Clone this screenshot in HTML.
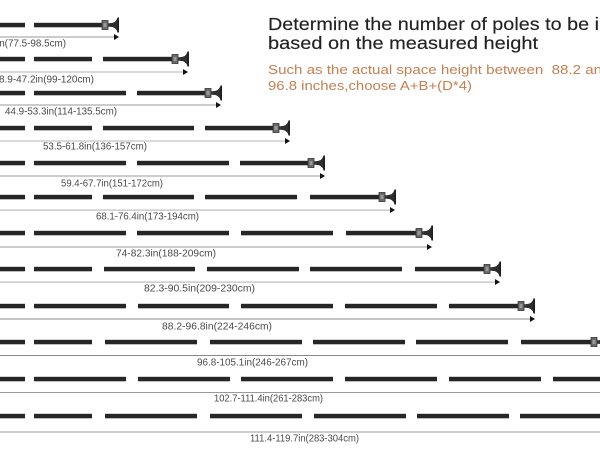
<!DOCTYPE html>
<html>
<head>
<meta charset="utf-8">
<style>
  html,body{margin:0;padding:0;background:#fff;}
  body{width:600px;height:450px;overflow:hidden;}
  svg{display:block;}
  .lbl{font-family:"Liberation Sans",sans-serif;font-size:10px;fill:#4a4a4a;}
  .ttl{font-family:"Liberation Sans",sans-serif;font-size:17.5px;fill:#222;stroke:#222;stroke-width:0.15;}
  .sub{font-family:"Liberation Sans",sans-serif;font-size:12.5px;fill:#c47f52;}
  .t{fill:#262626;}
</style>
</head>
<body>
<svg width="600" height="450" viewBox="0 0 600 450" xmlns="http://www.w3.org/2000/svg">
  <defs>
    <g id="cap">
      <rect x="-12" y="-1.8" width="6" height="3.6" fill="#3a3a3a"/>
      <rect x="-17" y="-4.5" width="6" height="9" fill="#6a6a6a" stroke="#333" stroke-width="0.8"/>
      <rect x="-15.5" y="-2" width="3" height="4" fill="#999"/>
      <path d="M-9,-1.8 Q-3,-2 -1.6,-7 L0,-7.5 L0,7.5 L-1.6,7 Q-3,2 -9,1.8 Z" fill="#2e2e2e"/>
      <rect x="-1.6" y="-7.5" width="1.6" height="15" fill="#1e1e1e"/>
    </g>
    <g id="arrowhead">
      <polygon points="-5,-3 0,0 -5,3" fill="#111"/>
    </g>
  </defs>

  <!-- Title -->
  <text class="ttl" x="268" y="30" textLength="331" lengthAdjust="spacingAndGlyphs">Determine the number of poles to be i</text>
  <text class="ttl" x="268" y="49" textLength="270" lengthAdjust="spacingAndGlyphs">based on the measured height</text>
  <text class="sub" x="268" y="74" textLength="334" lengthAdjust="spacingAndGlyphs" xml:space="preserve">Such as the actual space height between  88.2 an</text>
  <text class="sub" x="268" y="90" textLength="204" lengthAdjust="spacingAndGlyphs">96.8 inches,choose A+B+(D*4)</text>

  <g id="rows">
  <!-- Row 1 -->
  <g>
    <rect class="t" x="-2" y="22.8" width="27" height="4.5"/>
    <rect class="t" x="34" y="22.8" width="68" height="4.5"/>
    <use href="#cap" x="119" y="25"/>
    <rect x="0" y="36.5" width="115" height="1" fill="#9a9a9a"/>
    <use href="#arrowhead" x="119" y="37"/>
    <text class="lbl" x="-3" y="46.5" textLength="69" lengthAdjust="spacingAndGlyphs">in(77.5-98.5cm)</text>
  </g>
  <!-- Row 2 -->
  <g>
    <rect class="t" x="-2" y="56.8" width="27" height="4.5"/>
    <rect class="t" x="34" y="56.8" width="58" height="4.5"/>
    <rect class="t" x="103" y="56.8" width="69" height="4.5"/>
    <use href="#cap" x="189" y="59"/>
    <rect x="0" y="71.5" width="184" height="1" fill="#b4b4b4"/>
    <use href="#arrowhead" x="188" y="72"/>
    <text class="lbl" x="-6.5" y="82.5" textLength="100.5" lengthAdjust="spacingAndGlyphs">38.9-47.2in(99-120cm)</text>
  </g>
  <!-- Row 3 -->
  <g>
    <rect class="t" x="-2" y="90.8" width="27" height="4.5"/>
    <rect class="t" x="34" y="90.8" width="92" height="4.5"/>
    <rect class="t" x="137" y="90.8" width="68" height="4.5"/>
    <use href="#cap" x="222" y="93"/>
    <rect x="0" y="104.5" width="217" height="1" fill="#9a9a9a"/>
    <use href="#arrowhead" x="221" y="105"/>
    <text class="lbl" x="5" y="114.5" textLength="112" lengthAdjust="spacingAndGlyphs">44.9-53.3in(114-135.5cm)</text>
  </g>
  <!-- Row 4 -->
  <g>
    <rect class="t" x="-2" y="125.8" width="27" height="4.5"/>
    <rect class="t" x="34" y="125.8" width="58" height="4.5"/>
    <rect class="t" x="103" y="125.8" width="91" height="4.5"/>
    <rect class="t" x="205" y="125.8" width="68" height="4.5"/>
    <use href="#cap" x="290" y="128"/>
    <rect x="0" y="140.5" width="286" height="1" fill="#b4b4b4"/>
    <use href="#arrowhead" x="290" y="141"/>
    <text class="lbl" x="43" y="149.5" textLength="104" lengthAdjust="spacingAndGlyphs">53.5-61.8in(136-157cm)</text>
  </g>
  <!-- Row 5 -->
  <g>
    <rect class="t" x="-2" y="160.8" width="27" height="4.5"/>
    <rect class="t" x="34" y="160.8" width="92" height="4.5"/>
    <rect class="t" x="137" y="160.8" width="92" height="4.5"/>
    <rect class="t" x="240" y="160.8" width="68" height="4.5"/>
    <use href="#cap" x="325" y="163"/>
    <rect x="0" y="175.5" width="321" height="1" fill="#9a9a9a"/>
    <use href="#arrowhead" x="325" y="176"/>
    <text class="lbl" x="61" y="186.5" textLength="102" lengthAdjust="spacingAndGlyphs">59.4-67.7in(151-172cm)</text>
  </g>
  <!-- Row 6 -->
  <g>
    <rect class="t" x="-2" y="194.8" width="27" height="4.5"/>
    <rect class="t" x="34" y="194.8" width="58" height="4.5"/>
    <rect class="t" x="103" y="194.8" width="91" height="4.5"/>
    <rect class="t" x="205" y="194.8" width="92" height="4.5"/>
    <rect class="t" x="310" y="194.8" width="69" height="4.5"/>
    <use href="#cap" x="396" y="197"/>
    <rect x="0" y="209.5" width="391" height="1.2" fill="#bdbdbd"/>
    <use href="#arrowhead" x="395" y="210"/>
    <text class="lbl" x="96" y="219.5" textLength="103" lengthAdjust="spacingAndGlyphs">68.1-76.4in(173-194cm)</text>
  </g>
  <!-- Row 7 -->
  <g>
    <rect class="t" x="-2" y="230.8" width="27" height="4.5"/>
    <rect class="t" x="34" y="230.8" width="92" height="4.5"/>
    <rect class="t" x="137" y="230.8" width="92" height="4.5"/>
    <rect class="t" x="241" y="230.8" width="92" height="4.5"/>
    <rect class="t" x="346" y="230.8" width="70" height="4.5"/>
    <use href="#cap" x="433" y="233"/>
    <rect x="0" y="246.5" width="428" height="1" fill="#999"/>
    <use href="#arrowhead" x="432" y="247"/>
    <text class="lbl" x="116" y="256.5" textLength="100" lengthAdjust="spacingAndGlyphs">74-82.3in(188-209cm)</text>
  </g>
  <!-- Row 8 -->
  <g>
    <rect class="t" x="-2" y="266.8" width="27" height="4.5"/>
    <rect class="t" x="34" y="266.8" width="58" height="4.5"/>
    <rect class="t" x="104" y="266.8" width="91" height="4.5"/>
    <rect class="t" x="207" y="266.8" width="92" height="4.5"/>
    <rect class="t" x="310" y="266.8" width="92" height="4.5"/>
    <rect class="t" x="415" y="266.8" width="69" height="4.5"/>
    <use href="#cap" x="501" y="269"/>
    <rect x="0" y="281.5" width="496" height="1.2" fill="#bdbdbd"/>
    <use href="#arrowhead" x="500" y="282"/>
    <text class="lbl" x="144" y="291.5" textLength="111" lengthAdjust="spacingAndGlyphs">82.3-90.5in(209-230cm)</text>
  </g>
  <!-- Row 9 -->
  <g>
    <rect class="t" x="-2" y="303.8" width="27" height="4.5"/>
    <rect class="t" x="34" y="303.8" width="92" height="4.5"/>
    <rect class="t" x="138" y="303.8" width="91" height="4.5"/>
    <rect class="t" x="241" y="303.8" width="92" height="4.5"/>
    <rect class="t" x="345" y="303.8" width="92" height="4.5"/>
    <rect class="t" x="449" y="303.8" width="69" height="4.5"/>
    <use href="#cap" x="535" y="306"/>
    <rect x="0" y="318.5" width="530" height="1" fill="#888"/>
    <use href="#arrowhead" x="535" y="319"/>
    <text class="lbl" x="162" y="329.5" textLength="110" lengthAdjust="spacingAndGlyphs">88.2-96.8in(224-246cm)</text>
  </g>
  <!-- Row 10 -->
  <g>
    <rect class="t" x="-2" y="339.8" width="27" height="4.5"/>
    <rect class="t" x="34" y="339.8" width="58" height="4.5"/>
    <rect class="t" x="105" y="339.8" width="92" height="4.5"/>
    <rect class="t" x="210" y="339.8" width="92" height="4.5"/>
    <rect class="t" x="313" y="339.8" width="92" height="4.5"/>
    <rect class="t" x="416" y="339.8" width="92" height="4.5"/>
    <rect class="t" x="521" y="339.8" width="70" height="4.5"/>
    <use href="#cap" x="608" y="342"/>
    <rect x="0" y="355" width="600" height="1" fill="#888"/>
    <text class="lbl" x="197" y="365.5" textLength="111" lengthAdjust="spacingAndGlyphs">96.8-105.1in(246-267cm)</text>
  </g>
  <!-- Row 11 -->
  <g>
    <rect class="t" x="-2" y="376.8" width="27" height="4.5"/>
    <rect class="t" x="34" y="376.8" width="92" height="4.5"/>
    <rect class="t" x="138" y="376.8" width="92" height="4.5"/>
    <rect class="t" x="241" y="376.8" width="92" height="4.5"/>
    <rect class="t" x="345" y="376.8" width="92" height="4.5"/>
    <rect class="t" x="449" y="376.8" width="92" height="4.5"/>
    <rect class="t" x="553" y="376.8" width="50" height="4.5"/>
    <rect x="0" y="392" width="600" height="1" fill="#999"/>
    <text class="lbl" x="214" y="401.5" textLength="109" lengthAdjust="spacingAndGlyphs">102.7-111.4in(261-283cm)</text>
  </g>
  <!-- Row 12 -->
  <g>
    <rect class="t" x="-2" y="413.8" width="27" height="4.5"/>
    <rect class="t" x="34" y="413.8" width="58" height="4.5"/>
    <rect class="t" x="105" y="413.8" width="92" height="4.5"/>
    <rect class="t" x="210" y="413.8" width="92" height="4.5"/>
    <rect class="t" x="314" y="413.8" width="92" height="4.5"/>
    <rect class="t" x="417" y="413.8" width="92" height="4.5"/>
    <rect class="t" x="520" y="413.8" width="83" height="4.5"/>
    <rect x="0" y="431.5" width="600" height="1" fill="#999"/>
    <text class="lbl" x="250" y="441.5" textLength="109" lengthAdjust="spacingAndGlyphs">111.4-119.7in(283-304cm)</text>
  </g>
  </g>
</svg>
</body>
</html>
